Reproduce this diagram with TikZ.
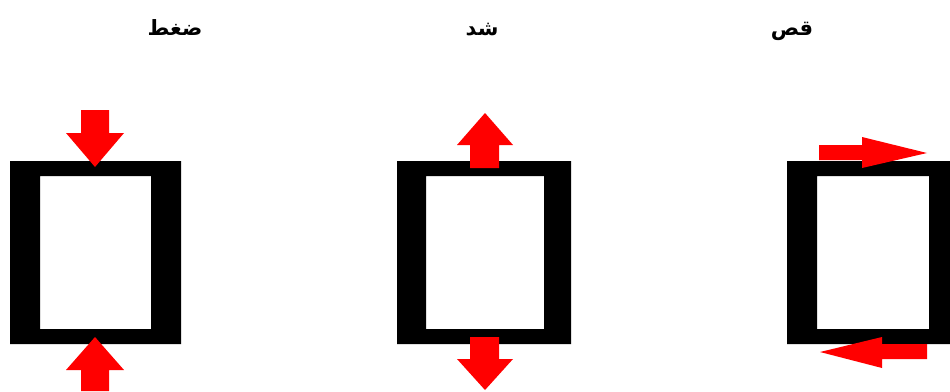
\documentclass[tikz,border=0pt]{standalone}
\usepackage{fontspec}
\newfontfamily\arabicfont[Script=Arabic]{DejaVu Sans}
\TeXXeTstate=1
\begin{document}
\begin{tikzpicture}[
  x=1pt, y=-1pt,
  frame/.style ={fill=black, even odd rule},
  force/.style ={fill=red},
  lbl/.style   ={font=\arabicfont\bfseries\fontsize{21}{24}\selectfont,
                 inner sep=0pt, anchor=base},
]
\useasboundingbox (0,0) rectangle (950,391);

% labels
\node[lbl] (comp)  at (175,35) {\beginR ضغط\endR};
\node[lbl] (tens)  at (482,35) {\beginR شد\endR};
\node[lbl] (shear) at (792,35) {\beginR قص\endR};

% frames
\fill[frame] (10,161) rectangle (181,344) (40,176) rectangle (151,329);
\fill[frame] (397,161) rectangle (571,344) (426,176) rectangle (544,329);
\fill[frame] (787,161) rectangle (950,344) (817,176) rectangle (929,329);

% compression
\fill[force] (81,110) -- (109,110) -- (109,133) -- (124,133) -- (95,167)
  -- (66,133) -- (81,133) -- cycle;
\fill[force] (81,391) -- (109,391) -- (109,370) -- (124,370) -- (95,337)
  -- (66,370) -- (81,370) -- cycle;

% tension
\fill[force] (470,168) -- (499,168) -- (499,145) -- (513,145) -- (485,113)
  -- (457,145) -- (470,145) -- cycle;
\fill[force] (470,337) -- (499,337) -- (499,359) -- (513,359) -- (485,390)
  -- (457,359) -- (470,359) -- cycle;

% shear
\fill[force] (819,145) -- (862,145) -- (862,137) -- (927,153) -- (862,168)
  -- (862,160) -- (819,160) -- cycle;
\fill[force] (927,344) -- (882,344) -- (882,337) -- (820,352) -- (882,368)
  -- (882,359) -- (927,359) -- cycle;

\end{tikzpicture}
\end{document}
